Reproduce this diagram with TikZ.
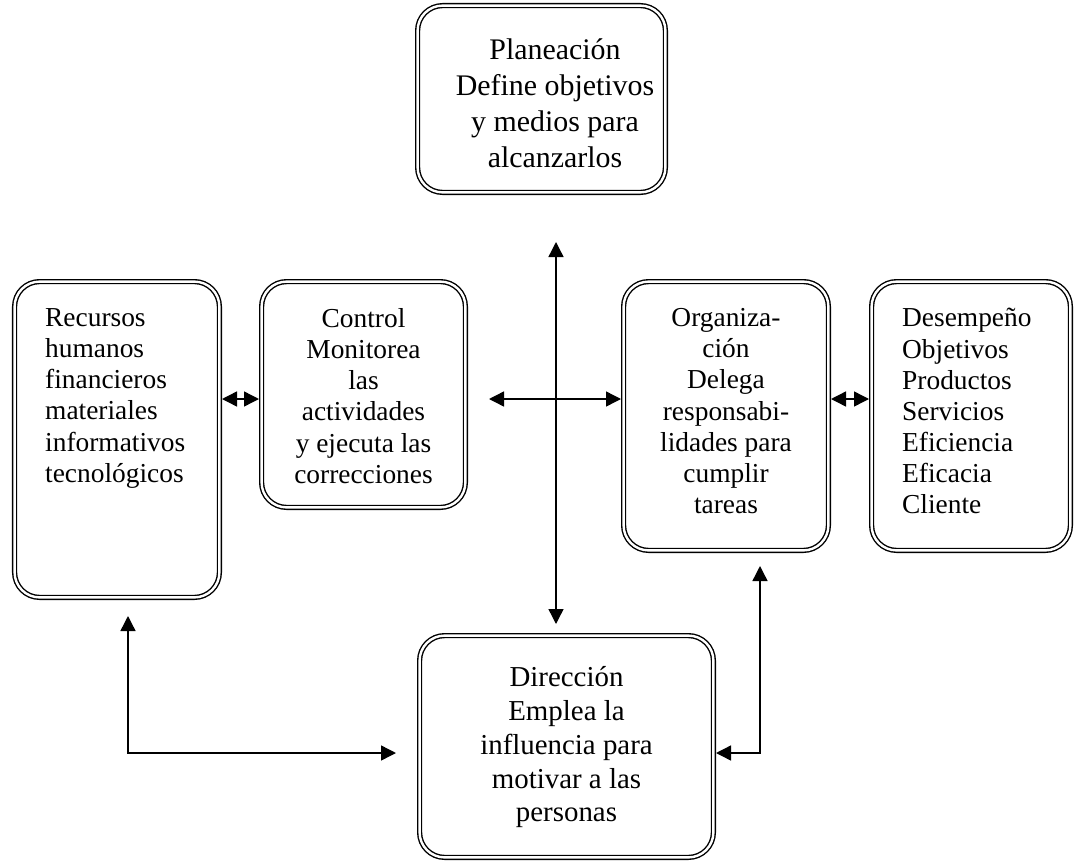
\documentclass[tikz,border=0pt]{standalone}
\usepackage{fontspec}
\setmainfont{Liberation Serif}
\usetikzlibrary{arrows.meta}
\begin{document}
\begin{tikzpicture}[x=1bp,y=-1bp,
  box/.style={draw, line width=1.4bp, double, double distance=2.4bp, rounded corners=25bp, inner sep=0pt, outer sep=2.6bp},
  txt/.style={inner sep=0pt, font=\fontsize{27.5}{31.3}\selectfont},
  conn/.style={line width=1.4bp, {Triangle[length=15bp,width=15bp]}-{Triangle[length=15bp,width=15bp]}},
]
\useasboundingbox (0,0) rectangle (1074,865);
% boxes
\node[box, minimum width=247.8bp, minimum height=186.8bp] (pla) at (541.5,99) {};
\node[box, minimum width=204.8bp, minimum height=315.8bp] (rec) at (117,439.5) {};
\node[box, minimum width=203.8bp, minimum height=225.8bp] (ctl) at (363.5,394.5) {};
\node[box, minimum width=204.8bp, minimum height=268.8bp] (org) at (726,416) {};
\node[box, minimum width=198.8bp, minimum height=268.8bp] (des) at (971,416) {};
\node[box, minimum width=293.8bp, minimum height=221.8bp] (dir) at (566.5,746.5) {};
% texts
\node[txt, align=center, anchor=north, font=\fontsize{30}{36}\selectfont] (plaT) at (555,38.5) {Planeación\\Define objetivos\\y medios para\\alcanzarlos};
\node[txt, align=left, anchor=north west] (recT) at (45,308.2) {Recursos\\humanos\\financieros\\materiales\\informativos\\tecnológicos};
\node[txt, align=center, anchor=north] (ctlT) at (363.5,308.2) {Control\\Monitorea\\las\\actividades\\y ejecuta las\\correcciones};
\node[txt, align=center, anchor=north] (orgT) at (726,308.2) {Organiza-\\ción\\Delega\\responsabi-\\lidades para\\cumplir\\tareas};
\node[txt, align=left, anchor=north west] (desT) at (902,308.2) {Desempeño\\Objetivos\\Productos\\Servicios\\Eficiencia\\Eficacia\\Cliente};
\node[txt, align=center, anchor=north, font=\fontsize{29}{34}\selectfont] (dirT) at (566.5,666.2) {Dirección\\Emplea la\\influencia para\\motivar a las\\personas};
% connector helpers
\coordinate (ay) at (0,399);
\coordinate (vx) at (556,0);
\coordinate (ly) at (0,753);
\coordinate (lx) at (128,0);
\coordinate (rx) at (760,0);
% connectors
\draw[conn] (rec.east |- ay) -- (ctl.west |- ay);
\draw[conn, shorten <=21bp] (ctl.east |- ay) -- (org.west |- ay);
\draw[conn] (org.east |- ay) -- (des.west |- ay);
\draw[conn, shorten <=47bp, shorten >=9bp] (pla.south -| vx) -- (dir.north -| vx);
\draw[conn, shorten <=16bp, shorten >=21bp] (rec.south -| lx) |- (dir.west |- ly);
\draw[conn, shorten <=13bp] (org.south -| rx) |- (dir.east |- ly);
\end{tikzpicture}
\end{document}
